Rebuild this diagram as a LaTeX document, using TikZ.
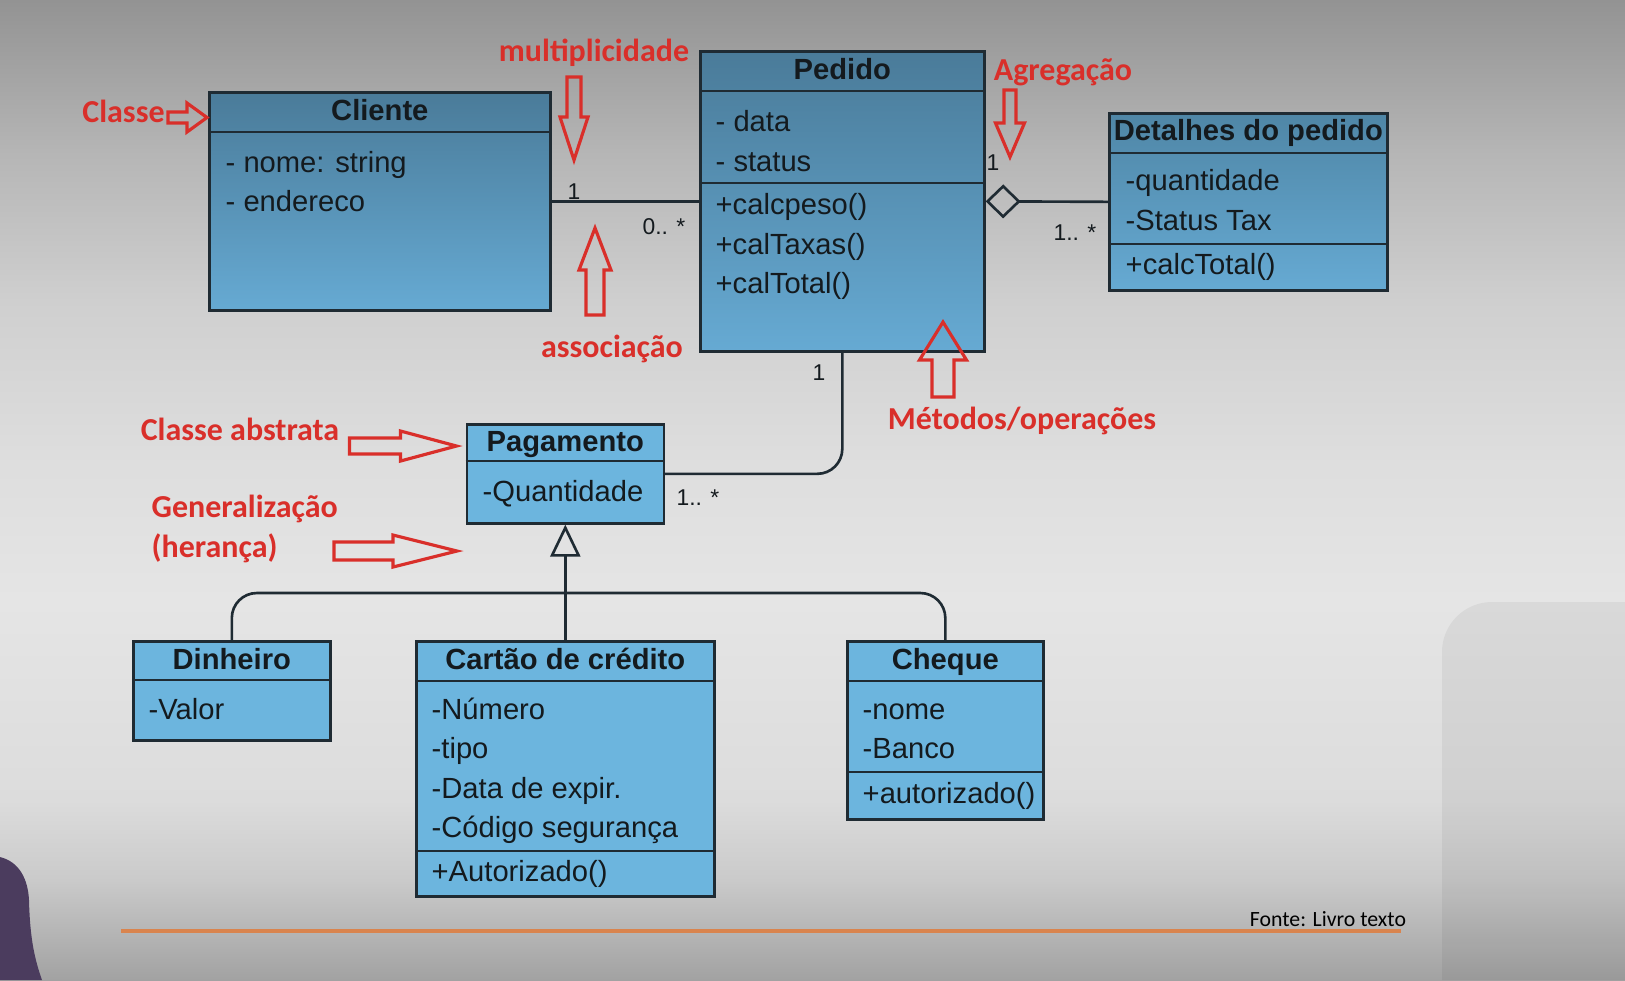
\documentclass[tikz,border=0pt]{standalone}
\usepackage{fontspec}
\setmainfont{Liberation Sans}
\newfontfamily\calibri{Carlito}
\usetikzlibrary{arrows.meta}

\definecolor{linha}{HTML}{1F2B33}
\definecolor{texto}{HTML}{141A1E}
\definecolor{azulEsc}{HTML}{4A7B99}
\definecolor{azulCla}{HTML}{66AAD3}
\definecolor{azulDet}{HTML}{4F86A6}
\definecolor{azulBaixo}{HTML}{6CB5DE}
\definecolor{vermelho}{HTML}{D92F2A}
\definecolor{laranja}{HTML}{D9844E}
\definecolor{roxo}{HTML}{4B3C5E}
\definecolor{fundoA}{HTML}{939393}
\definecolor{fundoB}{HTML}{B5B5B5}
\definecolor{fundoC}{HTML}{CFCFCF}
\definecolor{fundoD}{HTML}{DDDDDD}
\definecolor{fundoE}{HTML}{E5E5E5}
\definecolor{fundoF}{HTML}{DCDCDC}
\definecolor{fundoG}{HTML}{CACACA}
\definecolor{fundoH}{HTML}{A2A2A2}

\tikzset{
  classe/.style={draw=linha, line width=0.75pt, anchor=north west, inner sep=0pt},
  topo/.style={top color=azulEsc, bottom color=azulCla},
  baixo/.style={fill=azulBaixo},
  titulo/.style={anchor=base, font=\fontsize{8.3}{10}\selectfont\bfseries, text=texto},
  atrib/.style={anchor=base west, font=\fontsize{8.3}{10}\selectfont, text=texto, inner sep=0pt},
  mult/.style={font=\fontsize{6.5}{8}\selectfont, text=texto, inner sep=0pt},
  conector/.style={draw=linha, line width=0.75pt},
  anotacao/.style={font=\calibri\bfseries\fontsize{9.1}{11}\selectfont, text=vermelho, inner sep=0pt},
  contorno/.style={draw=vermelho, line width=0.9pt, line join=miter},
}

% seta vazada: x, y (cauda), angulo, comprimento, cabeca, meia-cabeca, meia-haste
\newcommand{\setaoca}[7]{%
  \draw[contorno, shift={(#1,#2)}, rotate=#3]
    (0,-#7) -- ({#4-#5},-#7) -- ({#4-#5},-#6) -- (#4,0)
    -- ({#4-#5},#6) -- ({#4-#5},#7) -- (0,#7) -- cycle;}

\begin{document}
\begin{tikzpicture}

    \useasboundingbox (0,0) rectangle (16.25,-9.8);

    % 1. Fundo do slide
    \fill[top color=fundoA, bottom color=fundoB] (0,0) rectangle (16.25,-1.51);
    \fill[top color=fundoB, bottom color=fundoC] (0,-1.5) rectangle (16.25,-3.01);
    \fill[top color=fundoC, bottom color=fundoD] (0,-3.0) rectangle (16.25,-4.51);
    \fill[top color=fundoD, bottom color=fundoE] (0,-4.5) rectangle (16.25,-6.01);
    \fill[top color=fundoE, bottom color=fundoF] (0,-6.0) rectangle (16.25,-8.01);
    \fill[top color=fundoF, bottom color=fundoG] (0,-8.0) rectangle (16.25,-8.81);
    \fill[top color=fundoG, bottom color=fundoH] (0,-8.8) rectangle (16.25,-9.8);
    \fill[black, opacity=0.05] (16.25,-9.8) -- (14.42,-9.8) -- (14.42,-6.52)
        arc[start angle=180, end angle=90, radius=0.5] -- (16.25,-6.02) -- cycle;
    \fill[roxo] (0,-8.57) .. controls (0.2,-8.62) and (0.28,-8.8) .. (0.29,-9.0)
        .. controls (0.3,-9.4) and (0.35,-9.6) .. (0.42,-9.8) -- (0,-9.8) -- cycle;
    \draw[laranja, line width=1.1pt] (1.21,-9.31) -- (14.01,-9.31);
    \node[font=\calibri\fontsize{6.2}{7}\selectfont, inner sep=0pt] (fonte) at (13.28,-9.19) {Fonte: Livro texto};

    % 2. Cliente
    \node[classe, topo, minimum width=3.41cm, minimum height=2.18cm] (cliente) at (2.08,-0.91) {};
    \draw[conector] ([yshift=-0.41cm]cliente.north west) -- ([yshift=-0.41cm]cliente.north east);
    \node[titulo] (clienteT) at ([yshift=-0.29cm]cliente.north) {Cliente};
    \node[atrib] (clienteA1) at (2.25,-1.72) {- nome: string};
    \node[atrib] (clienteA2) at (2.25,-2.11) {- endereco};

    % 3. Pedido
    \node[classe, topo, minimum width=2.84cm, minimum height=3.0cm] (pedido) at (6.99,-0.50) {};
    \draw[conector] ([yshift=-0.41cm]pedido.north west) -- ([yshift=-0.41cm]pedido.north east);
    \draw[conector] ([yshift=-1.33cm]pedido.north west) -- ([yshift=-1.33cm]pedido.north east);
    \node[titulo] (pedidoT) at ([yshift=-0.29cm]pedido.north) {Pedido};
    \node[atrib] (pedidoA1) at (7.15,-1.31) {- data};
    \node[atrib] (pedidoA2) at (7.15,-1.71) {- status};
    \node[atrib] (pedidoM1) at (7.15,-2.14) {+calcpeso()};
    \node[atrib] (pedidoM2) at (7.15,-2.54) {+calTaxas()};
    \node[atrib] (pedidoM3) at (7.15,-2.93) {+calTotal()};

    % 4. Detalhes do pedido
    \node[classe, top color=azulDet, bottom color=azulCla, minimum width=2.78cm, minimum height=1.77cm] (detalhes) at (11.08,-1.12) {};
    \draw[conector] ([yshift=-0.41cm]detalhes.north west) -- ([yshift=-0.41cm]detalhes.north east);
    \draw[conector] ([yshift=-1.32cm]detalhes.north west) -- ([yshift=-1.32cm]detalhes.north east);
    \node[titulo] (detalhesT) at ([yshift=-0.28cm]detalhes.north) {Detalhes do pedido};
    \node[atrib] (detalhesA1) at (11.25,-1.90) {-quantidade};
    \node[atrib] (detalhesA2) at (11.25,-2.30) {-Status Tax};
    \node[atrib] (detalhesM1) at (11.25,-2.74) {+calcTotal()};

    % 5. Pagamento e subclasses
    \node[classe, baixo, minimum width=1.97cm, minimum height=0.99cm] (pagamento) at (4.655,-4.23) {};
    \draw[conector] ([yshift=-0.38cm]pagamento.north west) -- ([yshift=-0.38cm]pagamento.north east);
    \node[titulo] (pagamentoT) at ([yshift=-0.285cm]pagamento.north) {Pagamento};
    \node[atrib] (pagamentoA1) at (4.82,-5.01) {-Quantidade};

    \node[classe, baixo, minimum width=1.97cm, minimum height=0.99cm] (dinheiro) at (1.32,-6.40) {};
    \draw[conector] ([yshift=-0.40cm]dinheiro.north west) -- ([yshift=-0.40cm]dinheiro.north east);
    \node[titulo] (dinheiroT) at ([yshift=-0.29cm]dinheiro.north) {Dinheiro};
    \node[atrib] (dinheiroA1) at (1.48,-7.19) {-Valor};

    \node[classe, baixo, minimum width=2.98cm, minimum height=2.55cm] (cartao) at (4.15,-6.40) {};
    \draw[conector] ([yshift=-0.41cm]cartao.north west) -- ([yshift=-0.41cm]cartao.north east);
    \draw[conector] ([yshift=-2.11cm]cartao.north west) -- ([yshift=-2.11cm]cartao.north east);
    \node[titulo] (cartaoT) at ([yshift=-0.29cm]cartao.north) {Cartão de crédito};
    \node[atrib] (cartaoA1) at (4.31,-7.19) {-Número};
    \node[atrib] (cartaoA2) at (4.31,-7.58) {-tipo};
    \node[atrib] (cartaoA3) at (4.31,-7.98) {-Data de expir.};
    \node[atrib] (cartaoA4) at (4.31,-8.37) {-Código segurança};
    \node[atrib] (cartaoM1) at (4.31,-8.81) {+Autorizado()};

    \node[classe, baixo, minimum width=1.96cm, minimum height=1.78cm] (cheque) at (8.46,-6.40) {};
    \draw[conector] ([yshift=-0.41cm]cheque.north west) -- ([yshift=-0.41cm]cheque.north east);
    \draw[conector] ([yshift=-1.32cm]cheque.north west) -- ([yshift=-1.32cm]cheque.north east);
    \node[titulo] (chequeT) at ([yshift=-0.29cm]cheque.north) {Cheque};
    \node[atrib] (chequeA1) at (8.62,-7.19) {-nome};
    \node[atrib] (chequeA2) at (8.62,-7.58) {-Banco};
    \node[atrib] (chequeM1) at (8.62,-8.03) {+autorizado()};

    % 6. Relacionamentos
    \draw[conector] (cliente.east) -- (cliente.east -| pedido.west);
    \draw[conector, {Diamond[open, length=3.5mm, width=3.4mm]}-] (pedido.east) -- (detalhes.west);
    \draw[conector, rounded corners=0.25cm] (pedido.south) |- (pagamento.east);
    \draw[conector, -{Triangle[open, length=3.2mm, width=3.0mm]}] (cartao.north) -- (cartao.north |- pagamento.south);
    \coordinate (juncao) at (5.64,-5.93);
    \draw[conector, rounded corners=0.25cm] (dinheiro.north) |- (juncao) -| (cheque.north);

    % 7. Multiplicidades
    \node[mult] (m1) at (5.74,-1.92) {1};
    \node[mult] (m2) at (6.64,-2.27) {0.. *};
    \node[mult] (m3) at (9.93,-1.63) {1};
    \node[mult] (m4) at (10.75,-2.33) {1.. *};
    \node[mult] (m5) at (8.19,-3.73) {1};
    \node[mult] (m6) at (6.98,-4.98) {1.. *};

    % 8. Anotacoes em vermelho
    \node[anotacao] (lblClasse) at (1.235,-1.11) {Classe};
    \node[anotacao] (lblMult) at (5.94,-0.53) {multiplicidade};
    \node[anotacao] (lblAssoc) at (6.12,-3.49) {associação};
    \node[anotacao] (lblAgreg) at (10.63,-0.72) {Agregação};
    \node[anotacao] (lblMetodos) at (10.22,-4.21) {Métodos/operações};
    \node[anotacao] (lblAbstrata) at (2.40,-4.29) {Classe abstrata};
    \node[anotacao, anchor=west] (lblGen) at (1.51,-5.09) {Generalização};
    \node[anotacao, anchor=west] (lblHeranca) at (1.51,-5.48) {(herança)};

    \setaoca{1.68}{-1.175}{0}{0.39}{0.20}{0.145}{0.055}
    \setaoca{5.74}{-0.77}{-90}{0.83}{0.43}{0.14}{0.07}
    \setaoca{5.95}{-3.15}{90}{0.87}{0.42}{0.16}{0.09}
    \setaoca{10.10}{-0.90}{-90}{0.67}{0.34}{0.145}{0.06}
    \setaoca{9.43}{-3.97}{90}{0.75}{0.38}{0.235}{0.11}
    \setaoca{3.495}{-4.46}{0}{1.07}{0.56}{0.15}{0.08}
    \setaoca{3.34}{-5.51}{0}{1.23}{0.64}{0.16}{0.09}

\end{tikzpicture}
\end{document}
